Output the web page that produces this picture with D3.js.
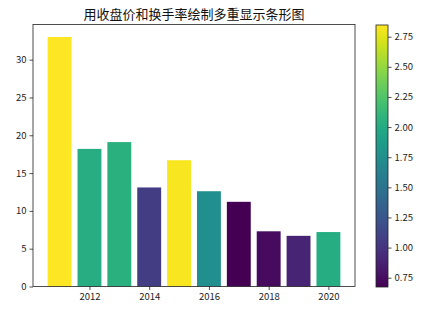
<!DOCTYPE html>
<html>
<head>
<meta charset="utf-8">
<script src="https://cdn.jsdelivr.net/npm/d3@7"></script>
<style>
  body { margin: 0; background: #fff; }
  svg { display: block; }
</style>
</head>
<body>
<svg></svg>
<script>
// 收盘价 + 换手率 (颜色)
const years = [2011, 2012, 2013, 2014, 2015, 2016, 2017, 2018, 2019, 2020];
const closePrice = [33.0, 18.2, 19.1, 13.1, 16.7, 12.6, 11.2, 7.3, 6.7, 7.2];
const turnover = [2.847, 2.03, 2.05, 1.06, 2.83, 1.75, 0.673, 0.74, 0.89, 2.02];
const xTicks = [2012, 2014, 2016, 2018, 2020];
const yTicks = [0, 5, 10, 15, 20, 25, 30];
const cbTicks = [0.75, 1.00, 1.25, 1.50, 1.75, 2.00, 2.25, 2.50, 2.75];

const WIDTH = 433;
const HEIGHT = 312;
const LEFT = 33, RIGHT = 355, TOP = 24.5, BOTTOM = 286.5;
const CB_LEFT = 376, CB_RIGHT = 388, CB_TOP = 25, CB_BOTTOM = 287;
const FONT = '"Noto Sans CJK SC", "DejaVu Sans", sans-serif';

const svg = d3.select('svg')
  .attr('width', WIDTH)
  .attr('height', HEIGHT)
  .attr('font-family', FONT);

const barW = 0.8;
const xScale = d3.scaleLinear()
  .domain([2010.11, 2020.89])
  .range([LEFT, RIGHT]);

const yScale = d3.scaleLinear()
  .domain([0, d3.max(closePrice) * 1.05])
  .range([BOTTOM, TOP]);

const colorScale = d3.scaleSequential(d3.interpolateViridis)
  .domain(d3.extent(turnover));

// title
svg.append('text')
  .attr('x', (LEFT + RIGHT) / 2)
  .attr('y', 19)
  .attr('text-anchor', 'middle')
  .attr('font-size', '13px')
  .attr('fill', '#111')
  .text('用收盘价和换手率绘制多重显示条形图');

// bars
svg.append('g')
  .selectAll('rect')
  .data(years)
  .enter()
  .append('rect')
  .attr('x', (d, i) => xScale(d - barW / 2))
  .attr('y', (d, i) => yScale(closePrice[i]))
  .attr('width', xScale(barW) - xScale(0))
  .attr('height', (d, i) => yScale(0) - yScale(closePrice[i]))
  .attr('fill', (d, i) => colorScale(turnover[i]));

// axes
const xAxis = d3.axisBottom(xScale).tickValues(xTicks).tickFormat(d3.format('d')).tickSize(3.5).tickPadding(3);
const yAxis = d3.axisLeft(yScale).tickValues(yTicks).tickSize(3.5).tickPadding(3);

const gx = svg.append('g').attr('transform', `translate(0, ${BOTTOM})`).call(xAxis);
const gy = svg.append('g').attr('transform', `translate(${LEFT}, 0)`).call(yAxis);
[gx, gy].forEach(g => {
  g.select('.domain').remove();
  g.selectAll('text').attr('font-size', '9.5px').attr('font-family', FONT).attr('fill', '#222');
  g.selectAll('line').attr('stroke', '#222').attr('stroke-width', 0.8);
});

// frame
svg.append('rect')
  .attr('x', LEFT).attr('y', TOP)
  .attr('width', RIGHT - LEFT).attr('height', BOTTOM - TOP)
  .attr('fill', 'none').attr('stroke', '#222').attr('stroke-width', 0.8);

// colorbar
const cbScale = d3.scaleLinear()
  .domain(colorScale.domain())
  .range([CB_BOTTOM, CB_TOP]);

const grad = svg.append('defs').append('linearGradient')
  .attr('id', 'cbgrad')
  .attr('x1', 0).attr('y1', 1).attr('x2', 0).attr('y2', 0);
d3.range(0, 1.0001, 0.05).forEach(t => {
  grad.append('stop').attr('offset', t).attr('stop-color', d3.interpolateViridis(t));
});

svg.append('rect')
  .attr('x', CB_LEFT).attr('y', CB_TOP)
  .attr('width', CB_RIGHT - CB_LEFT).attr('height', CB_BOTTOM - CB_TOP)
  .attr('fill', 'url(#cbgrad)')
  .attr('stroke', '#222').attr('stroke-width', 0.8);

const cbAxis = d3.axisRight(cbScale).tickValues(cbTicks).tickFormat(d3.format('.2f')).tickSize(3.5).tickPadding(3);
const gcb = svg.append('g').attr('transform', `translate(${CB_RIGHT}, 0)`).call(cbAxis);
gcb.select('.domain').remove();
gcb.selectAll('text').attr('font-size', '9.5px').attr('font-family', FONT).attr('fill', '#222');
gcb.selectAll('line').attr('stroke', '#222').attr('stroke-width', 0.8);
</script>
</body>
</html>
